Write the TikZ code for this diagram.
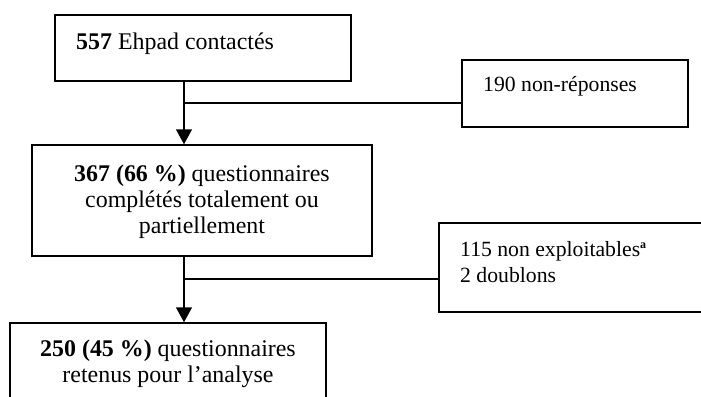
\documentclass[tikz,border=0pt]{standalone}
\usepackage{fontspec}
\setmainfont{Liberation Serif}
\usetikzlibrary{arrows.meta,calc}
\begin{document}
\begin{tikzpicture}[x=1pt,y=-1pt,
  box/.style={draw,line width=1.5pt,rectangle,inner sep=0pt},
  lbl/.style={inner sep=0pt,font=\fontsize{23.9}{26}\selectfont},
  slbl/.style={inner sep=0pt,font=\fontsize{21.7}{26}\selectfont},
  conn/.style={line width=1.5pt},
  arr/.style={line width=1.5pt,-{Triangle[width=16pt,length=15pt]}}]
\useasboundingbox (0,0) rectangle (701,396);
\clip (0,0) rectangle (701,396);
\fill[white] (0,0) rectangle (701,396);
% boxes
\node[box,minimum width=296pt,minimum height=66pt] (b1) at (203,48) {};
\node[box,minimum width=226pt,minimum height=67pt] (b190) at (575,93.5) {};
\node[box,minimum width=340pt,minimum height=111pt] (b2) at (202,200.5) {};
\node[box,minimum width=281pt,minimum height=89pt] (b115) at (579.5,267.5) {};
\node[box,minimum width=316pt,minimum height=97pt] (b3) at (168,371.5) {};
% texts
\node[lbl,anchor=base west] (t1) at (76,49) {\textbf{557} Ehpad contactés};
\node[slbl,anchor=base west] (t190) at (483,91) {190 non-réponses};
\node[lbl,align=center] (t2) at (202,202) {\textbf{367 (66 \%)} questionnaires\\complétés totalement ou\\partiellement};
\node[slbl,align=left,anchor=west] (t115) at (460,262) {115 non exploitables\raisebox{8pt}{\fontsize{12}{12}\selectfont\textbf{a}}\\2 doublons};
\node[lbl,align=center] (t3) at (168,364) {\textbf{250 (45 \%)} questionnaires\\retenus pour l’analyse};
% connectors
\coordinate (c1) at (184,103);
\coordinate (c2) at (184,279);
\draw[arr] (c1 |- b1.south) -- (c1 |- b2.north);
\draw[conn] (c1) -- (c1 -| b190.west);
\draw[arr] (c2 |- b2.south) -- (c2 |- b3.north);
\draw[conn] (c2) -- (c2 -| b115.west);
\end{tikzpicture}
\end{document}
